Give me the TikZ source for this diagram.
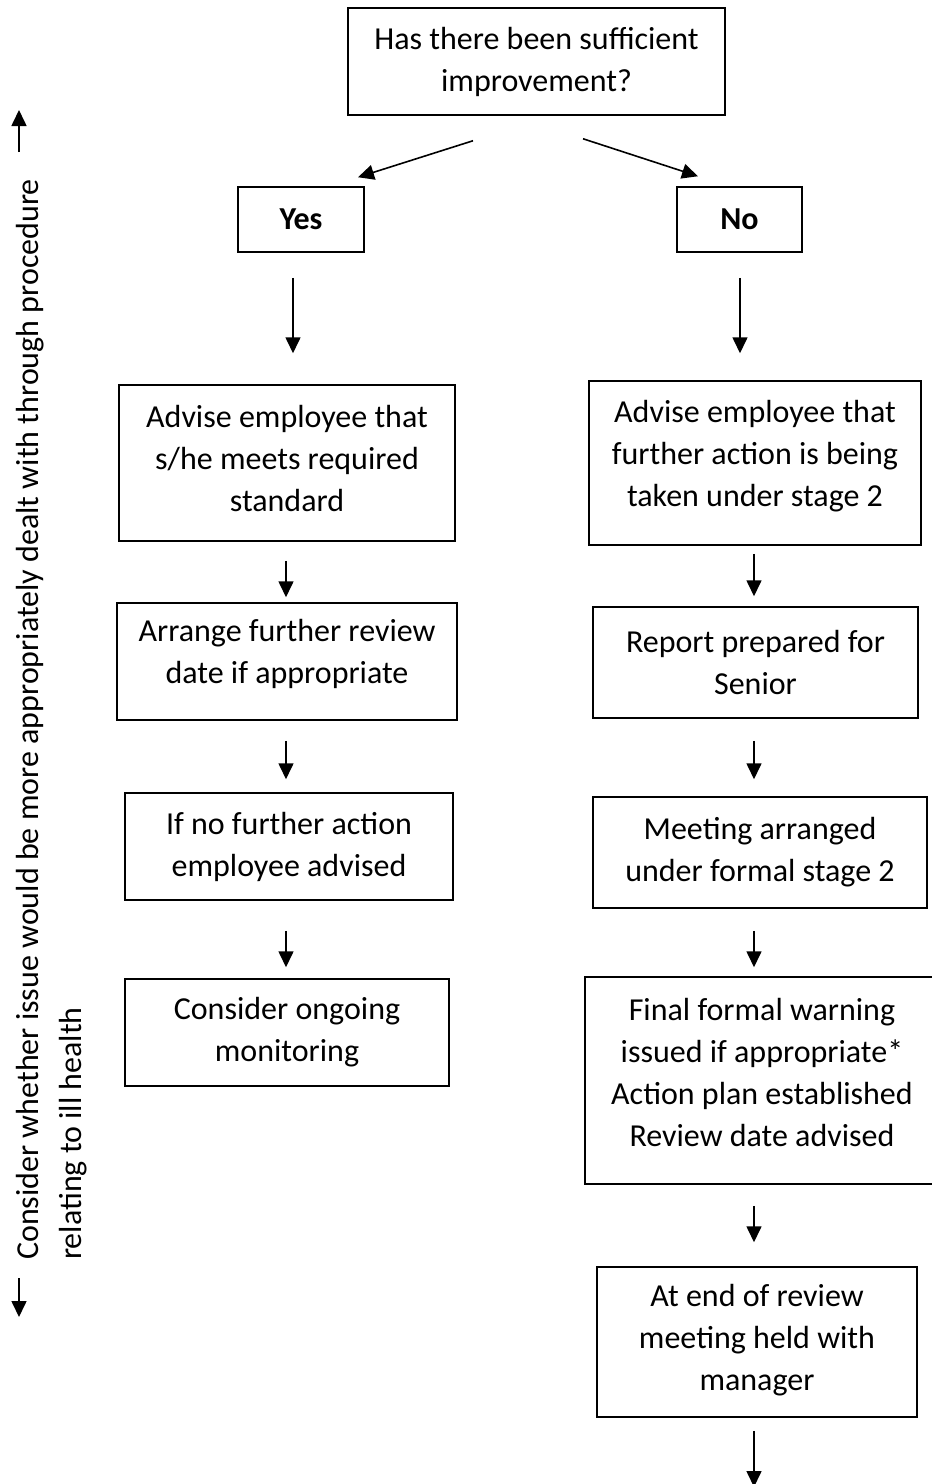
\documentclass[tikz,border=0pt]{standalone}
\usepackage{fontspec}
\setmainfont{Carlito}
\usetikzlibrary{arrows.meta}

\begin{document}
\begin{tikzpicture}[x=1pt, y=-1pt,
  box/.style={draw, line width=1.5pt, align=center, inner sep=0pt, font=\fontsize{32}{42}\selectfont},
  side/.style={rotate=90, anchor=base west, inner sep=0pt, font=\fontsize{32}{42}\selectfont},
  flow/.style={-{Triangle[length=16pt,width=15pt]}, line width=1.6pt}]
  \useasboundingbox (0,0) rectangle (932,1484);

  % question and the two answers
  \node[box, minimum width=377pt, minimum height=107pt] (q) at (536.5,61.5) {Has there been sufficient\\improvement?};
  \node[box, minimum width=126pt, minimum height=65pt] (yes) at (301,219.5) {\textbf{Yes}};
  \node[box, minimum width=125pt, minimum height=65pt] (no) at (739.5,219.5) {\textbf{No}};

  % yes branch
  \node[box, minimum width=336pt, minimum height=156pt] (l1) at (287,463) {Advise employee that\\s/he meets required\\standard\rule[-9pt]{0pt}{9pt}};
  \node[box, minimum width=340pt, minimum height=117pt] (l2) at (287,661.5) {Arrange further review\\date if appropriate\rule[-19.5pt]{0pt}{19.5pt}};
  \node[box, minimum width=328pt, minimum height=107pt] (l3) at (289,846.5) {If no further action\\employee advised};
  \node[box, minimum width=324pt, minimum height=107pt] (l4) at (287,1032.5) {Consider ongoing\\monitoring};

  % no branch
  \node[box, minimum width=332pt, minimum height=164pt] (r1) at (755,463) {Advise employee that\\further action is being\\taken under stage 2\rule[-20pt]{0pt}{20pt}};
  \node[box, minimum width=325pt, minimum height=111pt] (r2) at (755.5,662.5) {Report prepared for\\Senior};
  \node[box, minimum width=334pt, minimum height=111pt] (r3) at (760,852.5) {Meeting arranged\\under formal stage 2};
  \node[box, minimum width=354pt, minimum height=207pt] (r4) at (762,1080.5) {Final formal warning\\issued if appropriate*\\Action plan established\\Review date advised\rule[-16pt]{0pt}{16pt}};
  \node[box, minimum width=320pt, minimum height=150pt] (r5) at (757,1342) {At end of review\\meeting held with\\manager\rule[-9pt]{0pt}{9pt}};
  \coordinate (exit) at (754,1487);

  % side note
  \node[side] (side1) at (38,1260) {Consider whether issue would be more appropriately dealt with through procedure};
  \node[side] (side2) at (81,1260) {relating to ill health};
  \coordinate (up0) at (19,152);
  \coordinate (up1) at (19,110);
  \coordinate (dn0) at (19,1278);
  \coordinate (dn1) at (19,1317);

  \draw[flow] ([shift={(-63.5,25)}]q.south) -- ([shift={(57,-9)}]yes.north);
  \draw[flow] ([shift={(46.5,23)}]q.south) -- ([shift={(-41.5,-10)}]no.north);
  \draw[flow] ([shift={(-8,25)}]yes.south) -- ([shift={(6,-31)}]l1.north);
  \draw[flow] ([shift={(0.5,25)}]no.south) -- ([shift={(-15,-27)}]r1.north);
  \draw[flow] ([shift={(-1,19)}]l1.south) -- ([shift={(-1,-5)}]l2.north);
  \draw[flow] ([shift={(-1,20)}]l2.south) -- ([shift={(-3,-13)}]l3.north);
  \draw[flow] ([shift={(-3,30)}]l3.south) -- ([shift={(-1,-11)}]l4.north);
  \draw[flow] ([shift={(-1,8)}]r1.south) -- ([shift={(-1.5,-10)}]r2.north);
  \draw[flow] ([shift={(-1.5,22)}]r2.south) -- ([shift={(-6,-17)}]r3.north);
  \draw[flow] ([shift={(-6,22)}]r3.south) -- ([shift={(-8,-9)}]r4.north);
  \draw[flow] ([shift={(-8,21)}]r4.south) -- ([shift={(-3,-24)}]r5.north);
  \draw[flow] ([shift={(-3,13)}]r5.south) -- (exit);
  \draw[flow] (up0) -- (up1);
  \draw[flow] (dn0) -- (dn1);
\end{tikzpicture}
\end{document}
